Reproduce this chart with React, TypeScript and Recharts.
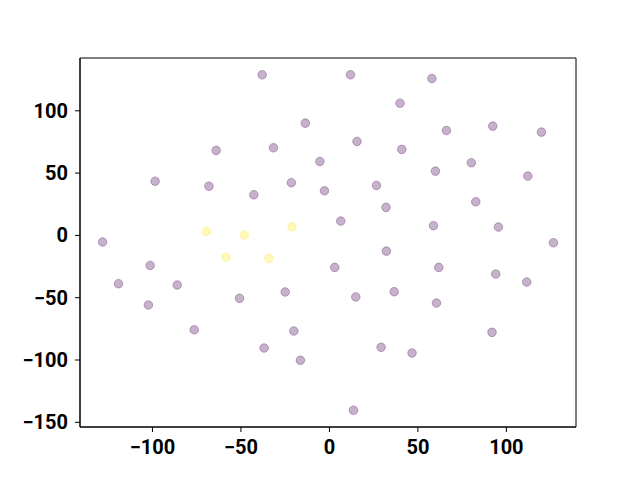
import React from 'react';
import { ScatterChart, Scatter, XAxis, YAxis, ReferenceArea } from 'recharts';

// group 0 (purple) and group 1 (yellow) coordinates
const purpleX = [
  -38.0, -13.6, -64.0, -31.6, -5.4, -98.5, -68.1, -42.7, -21.5, -2.8,
  -128.2, 11.9, 57.9, 39.9, 66.1, 92.3, 119.8, 15.6, 40.9, 80.2,
  59.9, 112.1, 26.6, 32.0, 82.7, 6.4, 58.8, 95.5, 126.6, -101.3,
  -119.2, -86.0, -102.3, -50.8, -25.0, -76.4, -20.1, -36.9, -16.4, 3.0,
  32.2, 61.8, 94.0, 111.5, 14.9, 36.6, 60.5, 91.9, 29.2, 46.7, 13.6,
];
const purpleY = [
  128.9, 90.1, 68.2, 70.3, 59.3, 43.5, 39.5, 32.6, 42.3, 35.8,
  -5.3, 128.9, 125.9, 106.1, 84.2, 87.7, 82.9, 75.4, 69.0, 58.3,
  51.6, 47.6, 40.1, 22.5, 27.0, 11.5, 7.8, 6.7, -5.9, -24.1,
  -38.8, -39.8, -55.9, -50.5, -45.4, -75.7, -76.7, -90.4, -100.2, -25.7,
  -12.6, -25.7, -31.0, -37.4, -49.4, -45.2, -54.3, -77.8, -89.8, -94.4, -140.3,
];
const yellowX = [-69.5, -48.0, -21.1, -58.5, -34.2];
const yellowY = [3.2, 0.3, 7.0, -17.6, -18.4];

const xTicks = [-100, -50, 0, 50, 100];
const yTicks = [-150, -100, -50, 0, 50, 100];

const purpleData = purpleX.map((x, i) => ({ x, y: purpleY[i] }));
const yellowData = yellowX.map((x, i) => ({ x, y: yellowY[i] }));

// matplotlib-style 5% margins
const pad = (vals: number[]) => {
  const lo = Math.min(...vals);
  const hi = Math.max(...vals);
  const m = (hi - lo) * 0.05;
  return [lo - m, hi + m];
};
const xDomain = pad([...purpleX, ...yellowX]);
const yDomain = pad([...purpleY, ...yellowY]);

const fmt = (v: number) => (v < 0 ? `\u2212${Math.abs(v)}` : `${v}`);

const tickStyle = { fill: '#000', fontSize: 20, fontWeight: 700, fontFamily: 'Roboto' };

const dot = (color: string) => (props: any) => (
  <circle
    cx={props.cx}
    cy={props.cy}
    r={4.3}
    fill={color}
    fillOpacity={0.3}
    stroke={color}
    strokeOpacity={0.3}
    strokeWidth={1}
  />
);

const App: React.FC = () => {
  return (
    <div style={{ position: 'absolute', left: 0, top: 0, background: '#fff' }}>
      <ScatterChart
        width={640}
        height={480}
        margin={{ top: 58, right: 64, bottom: 0, left: 0 }}
      >
        <XAxis
          type="number"
          dataKey="x"
          domain={xDomain}
          ticks={xTicks}
          tickFormatter={fmt}
          allowDataOverflow
          height={53}
          tickSize={5}
          tickMargin={8}
          tick={tickStyle}
          stroke="#000"
        />
        <YAxis
          type="number"
          dataKey="y"
          domain={yDomain}
          ticks={yTicks}
          tickFormatter={fmt}
          allowDataOverflow
          width={80}
          tickSize={5}
          tickMargin={7}
          tick={tickStyle}
          stroke="#000"
        />
        <ReferenceArea
          x1={xDomain[0]}
          x2={xDomain[1]}
          y1={yDomain[0]}
          y2={yDomain[1]}
          fill="none"
          stroke="#000"
          strokeWidth={1}
          ifOverflow="visible"
        />
        <Scatter data={purpleData} fill="#440154" shape={dot('#440154')} isAnimationActive={false} />
        <Scatter data={yellowData} fill="#fde725" shape={dot('#fde725')} isAnimationActive={false} />
      </ScatterChart>
    </div>
  );
};

export default App;
